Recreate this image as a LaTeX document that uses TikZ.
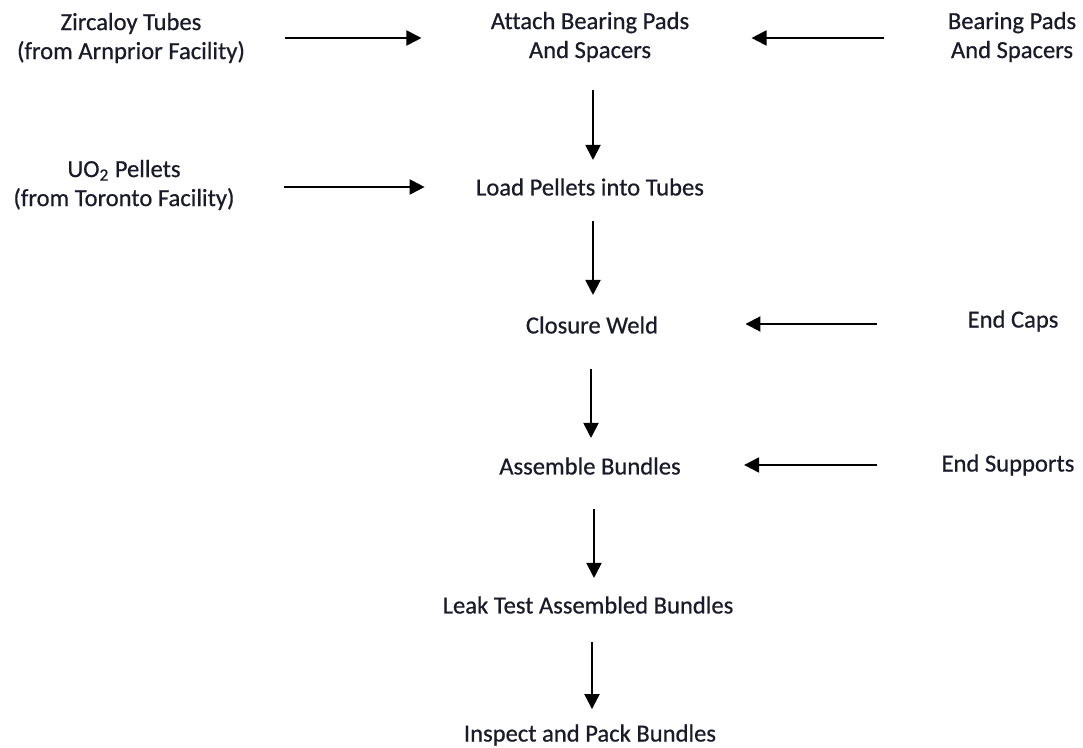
\documentclass[tikz,border=0pt]{standalone}
\usepackage{fontspec}
\setmainfont[Ligatures=NoCommon,FakeBold=0.6]{Carlito}
\usetikzlibrary{arrows.meta}
\definecolor{txt}{HTML}{1A1A2A}
\begin{document}
\begin{tikzpicture}[x=0.5pt,y=-0.5pt,
  lbl/.style={font=\fontsize{12.3}{14.5}\selectfont, align=center, inner sep=0pt, text=txt},
  arr/.style={line width=1pt, -{Triangle[length=7.5pt,width=7.5pt]}}]
\useasboundingbox (0,0) rectangle (1083,748);
\node[lbl] (zirc) at (131,38) {Zircaloy Tubes\\(from Arnprior Facility)};
\node[lbl] (attach) at (590,37) {Attach Bearing Pads\\And Spacers};
\node[lbl] (bear) at (1012,37) {Bearing Pads\\And Spacers};
\node[lbl] (uo2) at (124,185) {UO\textsubscript{2} Pellets\\(from Toronto Facility)};
\node[lbl] (load) at (590,187) {Load Pellets into Tubes};
\node[lbl] (weld) at (592,325) {Closure Weld};
\node[lbl] (caps) at (1013,321) {End Caps};
\node[lbl] (asm) at (590,466) {Assemble Bundles};
\node[lbl] (supp) at (1008,465) {End Supports};
\node[lbl] (leak) at (588,605) {Leak Test Assembled Bundles};
\node[lbl] (insp) at (590,735) {Inspect and Pack Bundles};
% horizontal inputs
\draw[arr, shorten <=20pt, shorten >=34.5pt] (zirc.east) -- (zirc.east -| attach.west);
\draw[arr, shorten <=32pt, shorten >=31pt] ([yshift=-0.5pt]bear.west) -- ([yshift=-0.5pt]bear.west -| attach.east);
\draw[arr, shorten <=24.5pt, shorten >=25.5pt] (uo2.east |- load) -- (load.west);
\draw[arr, shorten <=45pt, shorten >=43.5pt] ([yshift=-1.5pt]caps.west) -- ([yshift=-1.5pt]caps.west -| weld.east);
\draw[arr, shorten <=32pt, shorten >=31.5pt] (supp.west) -- (supp.west -| asm.east);
% vertical chain
\draw[arr, shorten <=14pt, shorten >=9pt] ([xshift=1.5pt]attach.south) -- ([xshift=1.5pt]attach.south |- load.north);
\draw[arr, shorten <=12.5pt, shorten >=10.5pt] ([xshift=1.5pt]load.south) -- ([xshift=1.5pt]load.south |- weld.north);
\draw[arr, shorten <=17.5pt, shorten >=9.5pt] ([xshift=-0.5pt]weld.south) -- ([xshift=-0.5pt]weld.south |- asm.north);
\draw[arr, shorten <=17pt, shorten >=9pt] ([xshift=2pt]asm.south) -- ([xshift=2pt]asm.south |- leak.north);
\draw[arr, shorten <=14pt, shorten >=7.5pt] ([xshift=2pt]leak.south) -- ([xshift=2pt]leak.south |- insp.north);
\end{tikzpicture}
\end{document}
